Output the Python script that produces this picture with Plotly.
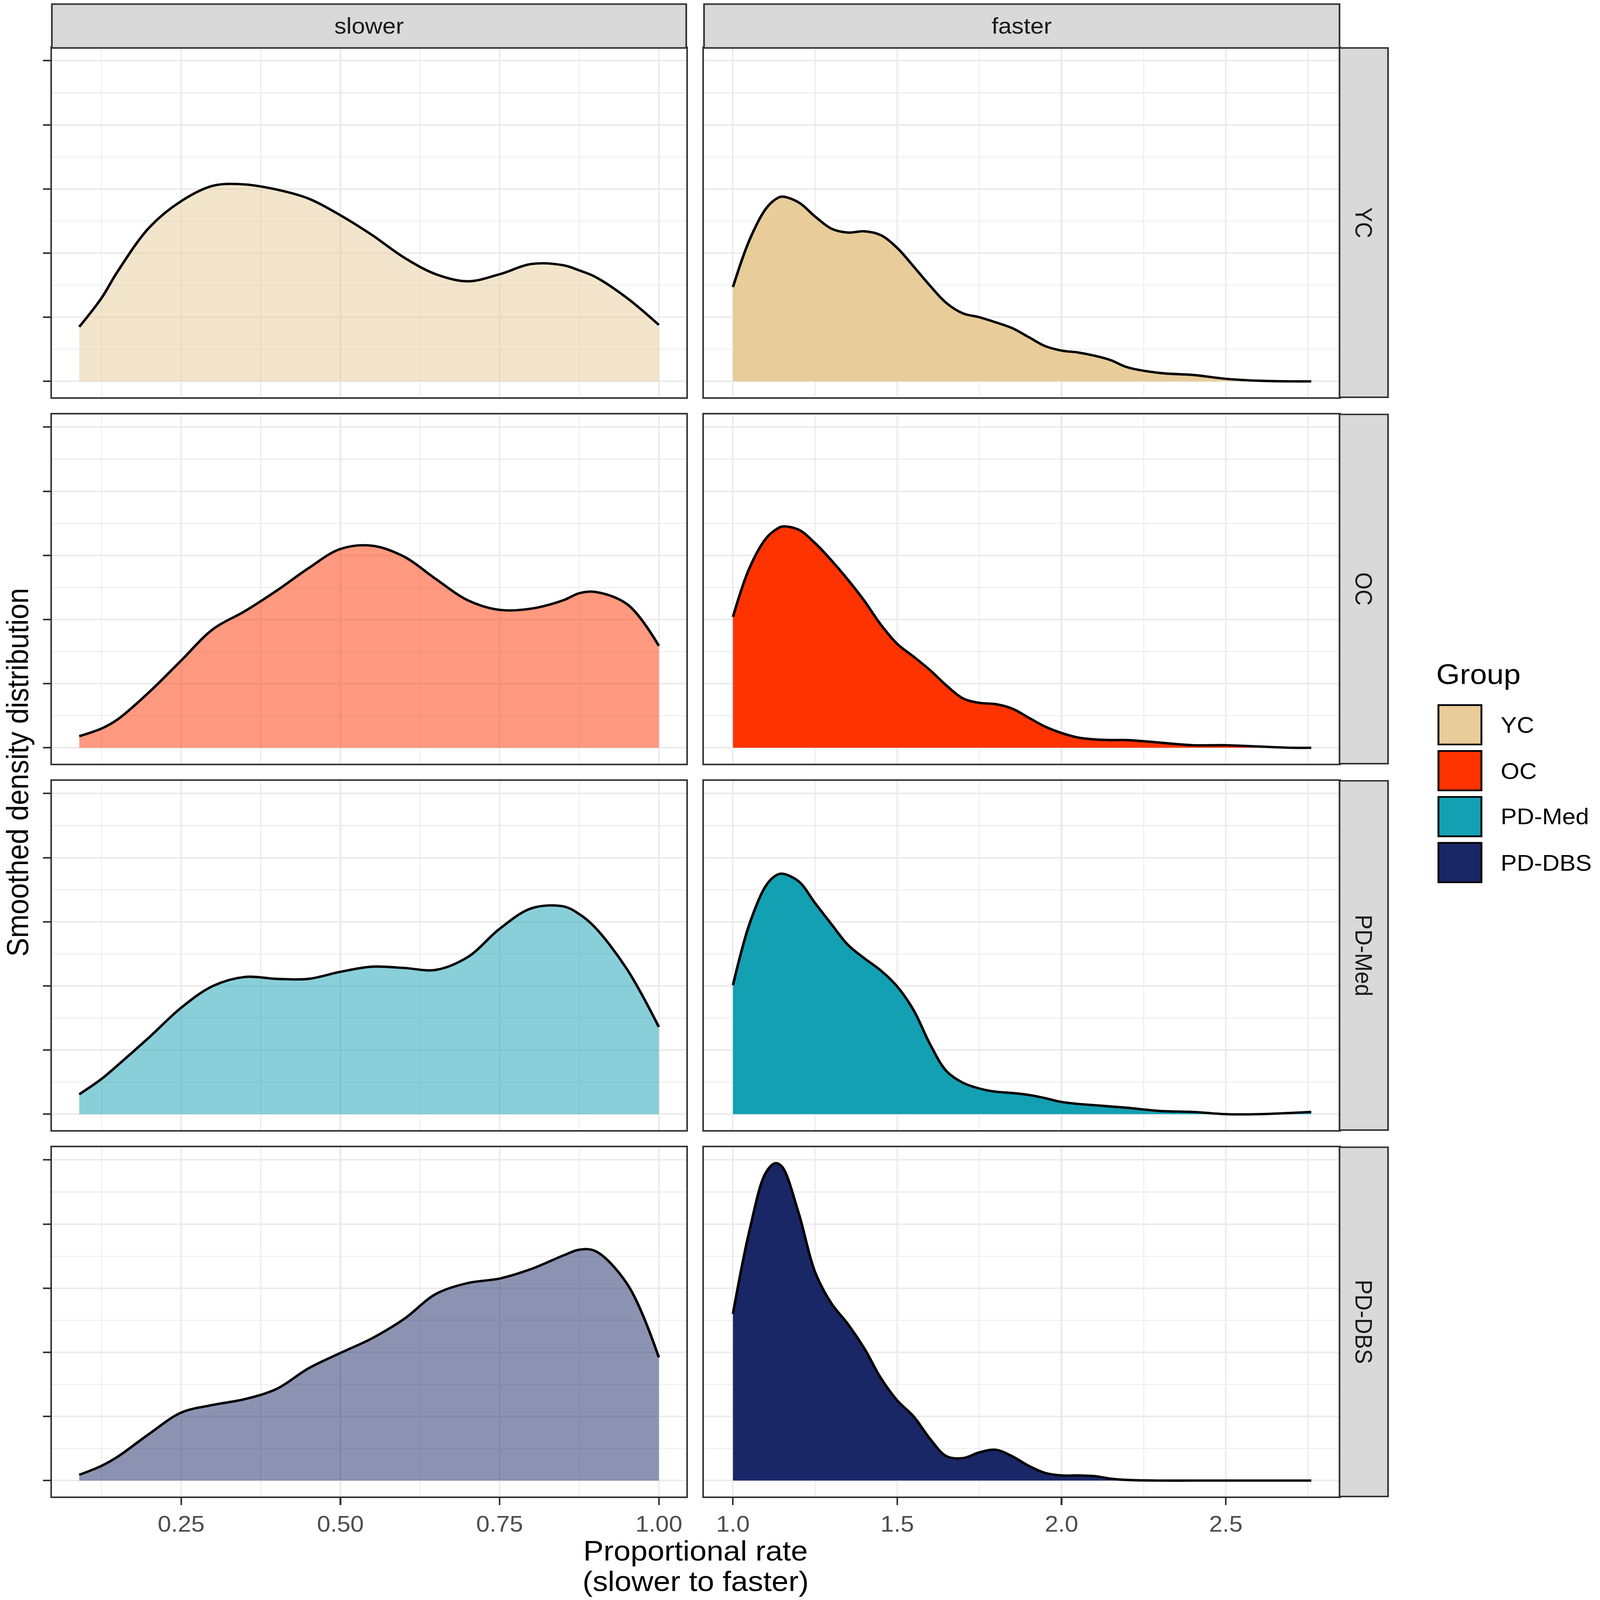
import plotly.graph_objects as go

# ---------------- data ----------------
groups = ["YC", "OC", "PD-Med", "PD-DBS"]
facets = ["slower", "faster"]

slower_x = [0.09, 0.125, 0.15, 0.2, 0.25, 0.3, 0.35, 0.4, 0.45, 0.5, 0.55,
            0.6, 0.65, 0.7, 0.75, 0.8, 0.85, 0.875, 0.9, 0.95, 1.0]

yc_slower = [0.425, 0.65, 0.855, 1.20, 1.405, 1.525, 1.535, 1.495, 1.425, 1.295, 1.14,
             0.965, 0.835, 0.78, 0.835, 0.915, 0.905, 0.865, 0.815, 0.65, 0.44]
oc_slower = [0.09, 0.15, 0.22, 0.435, 0.68, 0.925, 1.065, 1.225, 1.40, 1.55, 1.575,
             1.49, 1.315, 1.15, 1.075, 1.085, 1.15, 1.205, 1.215, 1.12, 0.795]
pdmed_slower = [0.155, 0.275, 0.38, 0.60, 0.83, 1.00, 1.07, 1.055, 1.055, 1.11, 1.15,
                1.14, 1.125, 1.225, 1.445, 1.605, 1.62, 1.56, 1.455, 1.13, 0.68]
pddbs_slower = [0.045, 0.115, 0.185, 0.365, 0.53, 0.59, 0.635, 0.715, 0.875, 0.995, 1.11,
                1.26, 1.455, 1.54, 1.575, 1.65, 1.755, 1.80, 1.79, 1.535, 0.96]

faster_x = [1.0, 1.05, 1.1, 1.13, 1.15, 1.2, 1.25, 1.3, 1.35, 1.4, 1.45, 1.5, 1.55, 1.6,
            1.65, 1.7, 1.75, 1.8, 1.85, 1.9, 1.95, 2.0, 2.05, 2.1, 2.15, 2.2, 2.3, 2.4,
            2.5, 2.6, 2.7, 2.76]

yc_faster = [0.735, 1.10, 1.345, 1.42, 1.44, 1.395, 1.285, 1.19, 1.16, 1.17, 1.14, 1.04,
             0.895, 0.745, 0.61, 0.53, 0.50, 0.46, 0.415, 0.345, 0.275, 0.24, 0.225, 0.20,
             0.165, 0.11, 0.065, 0.05, 0.02, 0.005, 0.0, 0.0]
oc_faster = [1.02, 1.40, 1.63, 1.70, 1.725, 1.70, 1.595, 1.46, 1.31, 1.145, 0.96, 0.81,
             0.71, 0.605, 0.485, 0.385, 0.35, 0.34, 0.305, 0.235, 0.165, 0.115, 0.08, 0.065,
             0.06, 0.06, 0.04, 0.02, 0.02, 0.01, 0.0, 0.0]
pdmed_faster = [1.005, 1.48, 1.78, 1.86, 1.875, 1.815, 1.645, 1.48, 1.32, 1.215, 1.12, 0.995,
                0.81, 0.545, 0.335, 0.245, 0.20, 0.175, 0.165, 0.15, 0.125, 0.095, 0.08, 0.07,
                0.06, 0.05, 0.025, 0.0175, 0.0, 0.0, 0.01, 0.0175]
pddbs_faster = [1.30, 1.945, 2.40, 2.475, 2.445, 2.085, 1.625, 1.38, 1.22, 1.03, 0.80, 0.625,
                0.50, 0.325, 0.19, 0.175, 0.22, 0.24, 0.19, 0.115, 0.06, 0.04, 0.04, 0.035,
                0.015, 0.005, 0.0, 0.0, 0.0, 0.0, 0.0, 0.0]

slower_series = [yc_slower, oc_slower, pdmed_slower, pddbs_slower]
faster_series = [yc_faster, oc_faster, pdmed_faster, pddbs_faster]

slower_ticks = [0.25, 0.50, 0.75, 1.00]
slower_ticklabels = ["0.25", "0.50", "0.75", "1.00"]
faster_ticks = [1.0, 1.5, 2.0, 2.5]
faster_ticklabels = ["1.0", "1.5", "2.0", "2.5"]
y_ticks = [0, 0.5, 1.0, 1.5, 2.0, 2.5]

# ---------------- styling ----------------
group_colors = ["#E8CC99", "#FF3300", "#13A0B3", "#1A2766"]
slower_fills = ["rgba(232,204,153,0.5)", "rgba(255,51,0,0.5)",
                "rgba(19,160,179,0.5)", "rgba(26,39,102,0.5)"]

W, H = 4318, 4668
FONT = "Liberation Sans, Arial, Helvetica, sans-serif"
BORDER = "#333333"
GRID = "#EBEBEB"

col_x = [(140, 1852), (1900, 3615)]
row_y = [(140, 1159), (1209, 2228), (2278, 3297), (3347, 4366)]
x_ranges = [[0.047, 1.043], [0.912, 2.846]]
y_range = [-0.124, 2.599]


def px(x):
    return x / W


def py(y):
    return 1 - y / H


fig = go.Figure()
layout = {}

for r in range(4):
    for c in range(2):
        idx = r * 2 + c + 1
        xs = slower_x if c == 0 else faster_x
        ys = slower_series[r] if c == 0 else faster_series[r]
        fill = slower_fills[r] if c == 0 else group_colors[r]
        xname = "x" if idx == 1 else f"x{idx}"
        yname = "y" if idx == 1 else f"y{idx}"
        fig.add_trace(go.Scatter(
            x=xs, y=ys, mode="lines",
            line=dict(color="black", width=7, shape="spline", smoothing=1.0),
            fill="tozeroy", fillcolor=fill,
            xaxis=xname, yaxis=yname, showlegend=False, hoverinfo="skip",
        ))
        bottom = (r == 3)
        left = (c == 0)
        layout[f"xaxis{idx if idx > 1 else ''}"] = dict(
            domain=[px(col_x[c][0]), px(col_x[c][1])],
            anchor=yname, range=x_ranges[c],
            tickmode="array",
            tickvals=slower_ticks if c == 0 else faster_ticks,
            ticktext=slower_ticklabels if c == 0 else faster_ticklabels,
            showticklabels=bottom,
            ticks="outside" if bottom else "",
            ticklen=20, tickwidth=4.5, tickcolor=BORDER,
            tickfont=dict(family=FONT, size=65, color="#4D4D4D"),
            showgrid=True, gridcolor=GRID, gridwidth=4.5,
            minor=dict(tickvals=[0.125, 0.375, 0.625, 0.875] if c == 0 else [1.25, 1.75, 2.25, 2.75],
                       showgrid=True, gridcolor=GRID, gridwidth=2.5, ticks=""),
            showline=True, linecolor=BORDER, linewidth=4.5, mirror=True,
            zeroline=False, fixedrange=True,
        )
        layout[f"yaxis{idx if idx > 1 else ''}"] = dict(
            domain=[py(row_y[r][1]), py(row_y[r][0])],
            anchor=xname, range=y_range,
            tickmode="array", tickvals=y_ticks,
            showticklabels=False,
            ticks="outside" if left else "",
            ticklen=20, tickwidth=4.5, tickcolor=BORDER,
            showgrid=True, gridcolor=GRID, gridwidth=4.5,
            minor=dict(tickvals=[0.25, 0.75, 1.25, 1.75, 2.25],
                       showgrid=True, gridcolor=GRID, gridwidth=2.5, ticks=""),
            showline=True, linecolor=BORDER, linewidth=4.5, mirror=True,
            zeroline=False, fixedrange=True,
        )

shapes = []
annotations = []

# top strips
for c, name in enumerate(facets):
    x0, x1 = col_x[c]
    shapes.append(dict(type="rect", xref="paper", yref="paper",
                       x0=px(x0), x1=px(x1), y0=py(140), y1=py(12),
                       fillcolor="#D9D9D9", line=dict(color=BORDER, width=4.5)))
    annotations.append(dict(text=name, xref="paper", yref="paper",
                            x=px((x0 + x1) / 2), y=py(76), showarrow=False,
                            xanchor="center", yanchor="middle",
                            font=dict(family=FONT, size=65, color="#1A1A1A")))

# right strips
for r, name in enumerate(groups):
    y0, y1 = row_y[r]
    shapes.append(dict(type="rect", xref="paper", yref="paper",
                       x0=px(3615), x1=px(3746), y0=py(y1), y1=py(y0),
                       fillcolor="#D9D9D9", line=dict(color=BORDER, width=4.5)))
    annotations.append(dict(text=name, xref="paper", yref="paper",
                            x=px(3681), y=py((y0 + y1) / 2), showarrow=False,
                            textangle=90, xanchor="center", yanchor="middle",
                            font=dict(family=FONT, size=65, color="#1A1A1A")))

# axis titles
annotations.append(dict(text="Proportional rate", xref="paper", yref="paper",
                        x=px(1877), y=py(4524), showarrow=False,
                        xanchor="center", yanchor="middle",
                        font=dict(family=FONT, size=82, color="black")))
annotations.append(dict(text="(slower to faster)", xref="paper", yref="paper",
                        x=px(1877), y=py(4613), showarrow=False,
                        xanchor="center", yanchor="middle",
                        font=dict(family=FONT, size=82, color="black")))
annotations.append(dict(text="Smoothed density distribution", xref="paper", yref="paper",
                        x=px(47), y=py(2253), showarrow=False, textangle=-90,
                        xanchor="center", yanchor="middle",
                        font=dict(family=FONT, size=82, color="black")))

# legend (drawn manually to mimic ggplot keys)
annotations.append(dict(text="Group", xref="paper", yref="paper",
                        x=px(3874), y=py(1968), showarrow=False,
                        xanchor="left", yanchor="middle",
                        font=dict(family=FONT, size=82, color="black")))
key_tops = [2055, 2189, 2323, 2457]
for i, name in enumerate(groups):
    t = key_tops[i]
    shapes.append(dict(type="rect", xref="paper", yref="paper",
                       x0=px(3882), x1=px(3998), y0=py(t + 117), y1=py(t + 2),
                       fillcolor=group_colors[i], line=dict(color="black", width=5)))
    annotations.append(dict(text=name, xref="paper", yref="paper",
                            x=px(4048), y=py(t + 60), showarrow=False,
                            xanchor="left", yanchor="middle",
                            font=dict(family=FONT, size=65, color="black")))

fig.update_layout(
    width=W, height=H, autosize=False,
    margin=dict(l=0, r=0, t=0, b=0, pad=0),
    paper_bgcolor="white", plot_bgcolor="white",
    showlegend=False, shapes=shapes, annotations=annotations,
    font=dict(family=FONT),
    **layout,
)

# The page viewport can be smaller than the figure: scale the fixed-size
# figure so the whole chart stays visible.
fit_script = """
var gd = document.getElementById('{plot_id}');
document.documentElement.style.margin = '0';
document.body.style.margin = '0';
document.documentElement.style.overflow = 'hidden';
document.body.style.overflow = 'hidden';
var vw = window.innerWidth, vh = window.innerHeight;
var sx = Math.min(1, vw / 4318), sy = Math.min(1, vh / 4668);
gd.style.transformOrigin = '0 0';
gd.style.transform = 'scale(' + sx + ',' + sy + ')';
"""

fig.write_html("out.html", post_script=fit_script,
               config={"displayModeBar": False, "staticPlot": True})
